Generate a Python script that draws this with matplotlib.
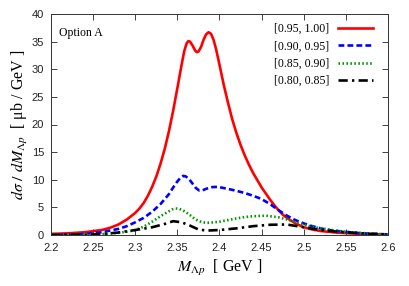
import numpy as np
import matplotlib
matplotlib.use('Agg')
import matplotlib.pyplot as plt

plt.rcParams['mathtext.fontset'] = 'stix'
plt.rcParams['font.family'] = ['Liberation Sans', 'DejaVu Sans']

# values
red_x = [2.20, 2.22, 2.24, 2.26, 2.27, 2.28, 2.29, 2.30, 2.305, 2.31, 2.315, 2.32,
         2.325, 2.33, 2.335, 2.34, 2.345, 2.35, 2.355, 2.358, 2.361, 2.363, 2.365,
         2.368, 2.371, 2.373, 2.375, 2.378, 2.381, 2.384, 2.387, 2.39, 2.393,
         2.396, 2.40, 2.405, 2.41, 2.415, 2.42, 2.425, 2.43, 2.435, 2.44, 2.445,
         2.45, 2.455, 2.46, 2.465, 2.47, 2.475, 2.48, 2.49, 2.50, 2.51, 2.52,
         2.54, 2.56, 2.58, 2.60]
red_y = [0.2, 0.3, 0.5, 0.9, 1.3, 1.9, 2.8, 4.0, 4.8, 5.8, 7.1, 8.7,
         10.6, 12.9, 15.6, 18.8, 22.5, 26.6, 30.8, 33.2, 34.7, 35.1, 35.0,
         34.3, 33.4, 33.1, 33.2, 34.0, 35.3, 36.3, 36.7, 36.4, 35.3,
         33.6, 30.8, 27.2, 24.0, 21.0, 18.5, 16.3, 14.4, 12.7, 11.2, 9.9,
         8.6, 7.5, 6.4, 5.4, 4.5, 3.7, 3.1, 2.1, 1.4, 1.0, 0.72,
         0.42, 0.25, 0.15, 0.1]

blue_x = [2.20, 2.22, 2.24, 2.26, 2.28, 2.29, 2.30, 2.31, 2.32, 2.33, 2.34, 2.345,
          2.35, 2.354, 2.357, 2.36, 2.364, 2.368, 2.372, 2.376, 2.38, 2.385, 2.39,
          2.395, 2.40, 2.41, 2.42, 2.43, 2.44, 2.45, 2.46, 2.47, 2.48, 2.49, 2.50,
          2.51, 2.52, 2.53, 2.55, 2.57, 2.60]
blue_y = [0.0, 0.05, 0.2, 0.5, 1.1, 1.6, 2.3, 3.1, 4.2, 5.6, 7.4, 8.6,
          9.7, 10.4, 10.7, 10.6, 10.1, 9.3, 8.5, 8.05, 8.1, 8.4, 8.65,
          8.7, 8.65, 8.35, 8.0, 7.6, 7.1, 6.5, 5.6, 4.5, 3.5, 2.7, 2.1,
          1.6, 1.2, 0.9, 0.55, 0.3, 0.1]

green_x = [2.20, 2.24, 2.26, 2.28, 2.29, 2.30, 2.31, 2.32, 2.33, 2.34, 2.344,
           2.348, 2.352, 2.356, 2.36, 2.365, 2.37, 2.375, 2.38, 2.385, 2.39,
           2.40, 2.41, 2.42, 2.43, 2.44, 2.455, 2.47, 2.48, 2.49, 2.50, 2.51,
           2.52, 2.54, 2.56, 2.58, 2.60]
green_y = [0.0, 0.05, 0.15, 0.4, 0.6, 0.9, 1.5, 2.4, 3.4, 4.3, 4.65,
           4.8, 4.75, 4.5, 4.15, 3.6, 3.0, 2.55, 2.3, 2.2, 2.25,
           2.4, 2.7, 3.0, 3.25, 3.4, 3.5, 3.2, 2.8, 2.3, 1.9, 1.5,
           1.2, 0.75, 0.45, 0.25, 0.1]

black_x = [2.20, 2.24, 2.26, 2.28, 2.30, 2.32, 2.335, 2.345, 2.355, 2.365, 2.375,
           2.385, 2.40, 2.42, 2.44, 2.46, 2.48, 2.50, 2.52, 2.54, 2.56, 2.58, 2.60]
black_y = [0.0, 0.05, 0.15, 0.45, 0.9, 1.4, 2.0, 2.5, 2.3, 1.7, 1.0,
           0.8, 0.9, 1.2, 1.6, 1.85, 1.9, 1.4, 0.9, 0.6, 0.4, 0.2, 0.1]

labels = ['[0.95, 1.00]', '[0.90, 0.95]', '[0.85, 0.90]', '[0.80, 0.85]']
xticks = [2.2, 2.25, 2.3, 2.35, 2.4, 2.45, 2.5, 2.55, 2.6]
yticks = [0, 5, 10, 15, 20, 25, 30, 35, 40]

fig = plt.figure(figsize=(4.09, 2.86), dpi=100)
ax = fig.add_axes([51/409, 1 - 235/286, (388 - 51)/409, (235 - 14)/286])

ax.plot(red_x, red_y, color='#ff0000', lw=1.9, label=labels[0])
ax.plot(blue_x, blue_y, color='#0000ff', lw=1.9, dashes=(2.2, 1.2), label=labels[1])
ax.plot(green_x, green_y, color='#009900', lw=1.9, dashes=(0.6, 0.9), label=labels[2])
ax.plot(black_x, black_y, color='black', lw=1.9, dashes=(3.5, 1.6, 0.9, 1.6), label=labels[3])

ax.set_xlim(2.2, 2.6)
ax.set_ylim(0, 40)
ax.set_xticks(xticks)
ax.set_xticklabels(['%g' % t for t in xticks])
ax.set_yticks(yticks)
ax.tick_params(direction='in', length=4, width=0.6, top=True, right=True,
               labelsize=8, colors='#222222')
ax.tick_params(axis='x', pad=6)
ax.tick_params(axis='y', pad=5)
for s in ax.spines.values():
    s.set_linewidth(0.7)
    s.set_color('#333333')

ax.set_xlabel(r'$M_{\Lambda p}$  [ GeV ]', fontsize=11.5, family='Liberation Serif',
              labelpad=3)
ax.set_ylabel(r'$d\sigma\ /\ dM_{\Lambda p}$  [ μb / GeV ]', fontsize=11.5,
              family='Liberation Serif', labelpad=1)

ax.text(0.025, 0.94, 'Option A', transform=ax.transAxes, fontsize=8.5,
        family='Liberation Serif', va='top', ha='left')

leg = ax.legend(loc='upper right', bbox_to_anchor=(0.97, 0.98), frameon=False,
                markerfirst=False, handlelength=3.0, handletextpad=0.7,
                labelspacing=0.45, borderaxespad=0.0,
                prop={'family': 'Liberation Serif', 'size': 8.5})

fig.savefig('out.png', dpi=100)
